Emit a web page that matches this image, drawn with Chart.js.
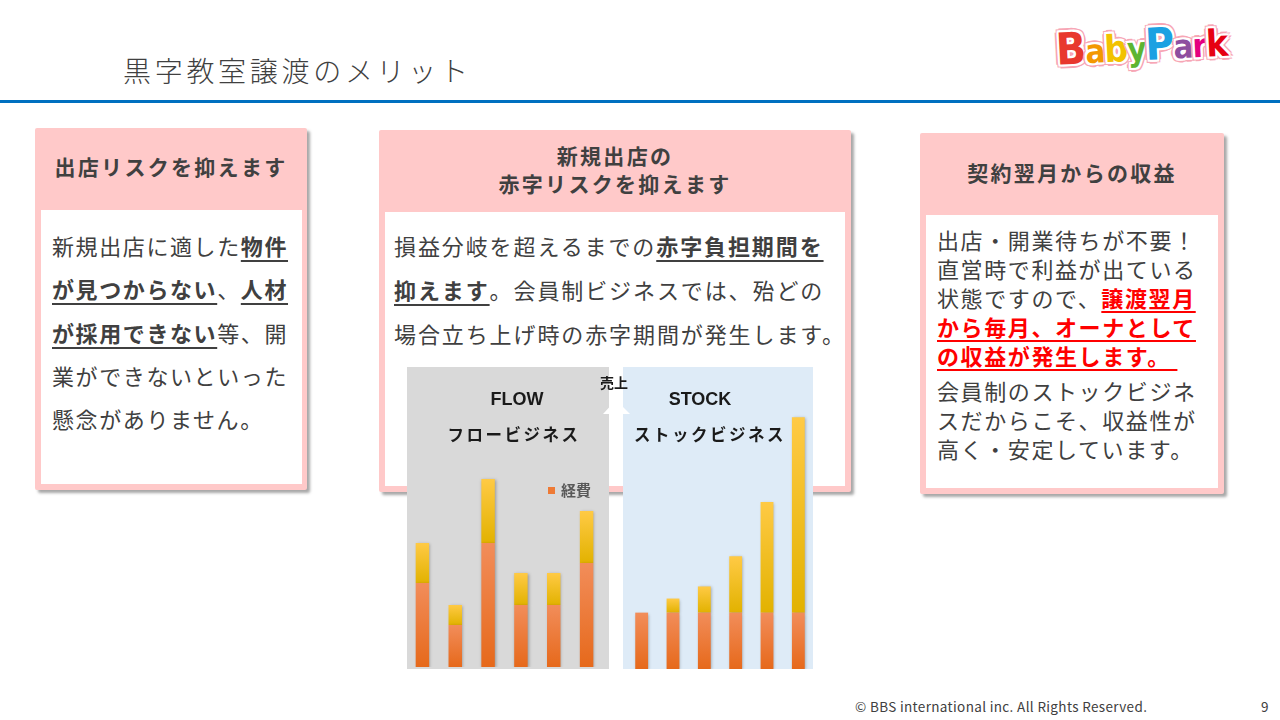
<!DOCTYPE html>
<html lang="ja">
<head>
<meta charset="utf-8">
<script src="https://cdn.jsdelivr.net/npm/chart.js@4/dist/chart.umd.min.js"></script>
<style>
  html, body { margin:0; padding:0; }
  body { width:1280px; height:720px; position:relative; overflow:hidden; background:#fff;
         font-family:"Noto Sans CJK JP","Noto Sans",sans-serif; color:#404040; }
  .abs { position:absolute; }
  .title { left:123px; top:50px; font-size:28px; font-weight:300; letter-spacing:3.7px; line-height:40px; white-space:nowrap; }
  .rule { left:0; top:100px; width:1280px; height:3px; background:#0070C0; }
  .card { background:#FFC9C9; box-shadow:3px 3px 3px rgba(0,0,0,0.35); border-radius:2px; }
  .card h3 { margin:0; position:absolute; left:0; right:0; text-align:center; font-size:21px; font-weight:700;
             letter-spacing:2.3px; line-height:28px; color:#404040; }
  .inner { background:#fff; position:absolute; }
  .body { position:absolute; font-size:22px; letter-spacing:1.6px; white-space:nowrap; }
  .u { font-weight:700; text-decoration:underline; text-decoration-thickness:2px; text-underline-offset:5px; }
  .red { color:#FF0000; font-weight:700; text-decoration:underline; text-decoration-thickness:2px; text-underline-offset:4px; }
  .panel { top:367px; height:302px; }
  .lbl { font-weight:700; text-align:center; white-space:nowrap; color:#1a1a1a; }
  .logo { left:1056px; top:20px; width:180px; height:54px; line-height:50px; font-family:"DejaVu Sans Condensed","DejaVu Sans",sans-serif;
          font-weight:700; letter-spacing:-1px; transform:rotate(-3deg); white-space:nowrap; }
  .logo span { display:inline-block; vertical-align:baseline; text-shadow:
      2px 0 #fff,-2px 0 #fff,0 2px #fff,0 -2px #fff,2px 2px #fff,-2px -2px #fff,2px -2px #fff,-2px 2px #fff,
      4px 0 #F7A6B5,-4px 0 #F7A6B5,0 4px #F7A6B5,0 -4px #F7A6B5,3px 3px #F7A6B5,-3px -3px #F7A6B5,3px -3px #F7A6B5,-3px 3px #F7A6B5; }
  .foot { top:696px; font-size:13.5px; letter-spacing:0.35px; color:#404040; font-family:"Noto Sans CJK JP","Noto Sans",sans-serif; white-space:nowrap; }
</style>
</head>
<body>
<div class="abs title">黒字教室譲渡のメリット</div>
<div class="abs rule"></div>

<div class="abs logo">
  <span style="color:#E8382E;font-size:44px;">B</span><span style="color:#F39800;font-size:33px;">a</span><span style="color:#F2C200;font-size:37px;">b</span><span style="color:#5DB531;font-size:33px;">y</span><span style="color:#1BA1E2;font-size:44px;">P</span><span style="color:#8E4FA0;font-size:33px;">a</span><span style="color:#E4007F;font-size:33px;">r</span><span style="color:#E60012;font-size:37px;">k</span>
</div>

<!-- card 1 -->
<div class="abs card" style="left:35px;top:128px;width:272px;height:362px;">
  <h3 style="top:24px;">出店リスクを抑えます</h3>
  <div class="inner" style="left:6px;top:82px;width:261px;height:274px;"></div>
  <div class="body" style="left:17px;top:96px;line-height:43.3px;">
    新規出店に適した<span class="u">物件</span><br>
    <span class="u">が見つからない</span>、<span class="u">人材</span><br>
    <span class="u">が採用できない</span>等、開<br>
    業ができないといった<br>
    懸念がありません。
  </div>
</div>

<!-- card 2 -->
<div class="abs card" style="left:379px;top:130px;width:472px;height:362px;">
  <h3 style="top:11px;">新規出店の<br>赤字リスクを抑えます</h3>
  <div class="inner" style="left:6px;top:82px;width:460px;height:274px;"></div>
  <div class="body" style="left:15px;top:93px;line-height:44px;letter-spacing:1.9px;">
    損益分岐を超えるまでの<span class="u">赤字負担期間を</span><br>
    <span class="u">抑えます</span>。会員制ビジネスでは、殆どの<br>
    場合立ち上げ時の赤字期間が発生します。
  </div>
</div>

<!-- card 3 -->
<div class="abs card" style="left:920px;top:133px;width:304px;height:361px;">
  <h3 style="top:25px;">契約翌月からの収益</h3>
  <div class="inner" style="left:6px;top:82px;width:292px;height:273px;"></div>
  <div class="body" style="left:17px;top:92px;line-height:29px;letter-spacing:1.6px;">
    出店・開業待ちが不要！<br>
    直営時で利益が出ている<br>
    状態ですので、<span class="red">譲渡翌月</span><br>
    <span class="red">から毎月、オーナとして</span><br>
    <span class="red">の収益が発生します。&nbsp;</span>
    <div style="height:6px;"></div>
    会員制のストックビジネ<br>
    スだからこそ、収益性が<br>
    高く・安定しています。
  </div>
</div>

<!-- chart panels -->
<div class="abs panel" style="left:407px;width:202px;background:#D9D9D9;"></div>
<div class="abs panel" style="left:623px;width:190px;background:#DEEBF7;"></div>

<div class="abs" style="left:406px;top:367px;width:197px;height:300px;"><canvas id="flowChart" width="197" height="300"></canvas></div>
<div class="abs" style="left:626px;top:367px;width:188px;height:302px;"><canvas id="stockChart" width="188" height="302"></canvas></div>

<svg class="abs" style="left:600px;top:396px;" width="34" height="20">
  <polygon points="16,4 3,18 30,18" fill="#fff"/>
</svg>
<div class="abs lbl" style="left:596px;top:373px;width:36px;font-size:14px;line-height:18px;">売上</div>
<div class="abs lbl" style="left:467px;top:387px;width:100px;font-size:18px;line-height:24px;font-family:'Liberation Sans',Arial,sans-serif;">FLOW</div>
<div class="abs lbl" style="left:444px;top:422px;width:140px;font-size:16.5px;line-height:24px;letter-spacing:2.5px;">フロービジネス</div>
<div class="abs lbl" style="left:650px;top:387px;width:100px;font-size:18px;line-height:24px;font-family:'Liberation Sans',Arial,sans-serif;">STOCK</div>
<div class="abs lbl" style="left:630px;top:422px;width:160px;font-size:16.5px;line-height:24px;letter-spacing:2.5px;">ストックビジネス</div>
<div class="abs" style="left:548px;top:487px;width:7px;height:7px;background:#EE7A35;"></div>
<div class="abs" style="left:561px;top:480px;font-size:15px;font-weight:700;color:#595959;line-height:20px;">経費</div>

<div class="abs foot" style="left:855px;">© BBS international inc. All Rights Reserved.</div>
<div class="abs foot" style="left:1261px;">9</div>

<script>
const periods = ['1', '2', '3', '4', '5', '6'];
const flowCost = [4.2, 2.1, 6.2, 3.1, 3.1, 5.2];
const flowSales = [6.2, 3.1, 9.4, 4.7, 4.7, 7.8];
const stockCost = [2.8, 2.8, 2.8, 2.8, 2.8, 2.8];
const stockSales = [2.8, 3.5, 4.1, 5.6, 8.3, 12.5];
const yMax = 15;

// vertical gradient for one stacked segment, from lo to hi on the y scale
function segGrad(chart, lo, hi, top, bottom){
    const area = chart.chartArea;
    if(!area || !chart.scales.y) return bottom;
    const y0 = chart.scales.y.getPixelForValue(lo);
    const y1 = chart.scales.y.getPixelForValue(hi);
    if(!isFinite(y0) || !isFinite(y1) || y0 === y1) return bottom;
    const g = chart.ctx.createLinearGradient(0, y1, 0, y0);
    g.addColorStop(0, top);
    g.addColorStop(1, bottom);
    return g;
}

const barShadow = {
    id: 'barShadow',
    beforeDatasetsDraw(chart){
        const ctx = chart.ctx;
        ctx.save();
        ctx.shadowColor = 'rgba(0,0,0,0.3)';
        ctx.shadowBlur = 3;
        ctx.shadowOffsetX = 1;
        ctx.shadowOffsetY = 1;
    },
    afterDatasetsDraw(chart){ chart.ctx.restore(); }
};

function makeChart(id, cost, sales){
    const profit = sales.map((s, i) => Math.max(0, +(s - cost[i]).toFixed(2)));
    return new Chart(document.getElementById(id), {
        type: 'bar',
        data: {
            labels: periods,
            datasets: [
                { label:'経費', data: cost,
                  backgroundColor: c => c.dataIndex === undefined ? '#EE7A35'
                      : segGrad(c.chart, 0, cost[c.dataIndex], '#F28D5A', '#E6691B') },
                { label:'利益', data: profit,
                  backgroundColor: c => c.dataIndex === undefined ? '#FFC000'
                      : segGrad(c.chart, cost[c.dataIndex], sales[c.dataIndex], '#FFCA45', '#E2B200') }
            ]
        },
        options: {
            responsive:false, animation:false,
            layout:{ padding:0 },
            datasets:{ bar:{ barPercentage:0.41, categoryPercentage:1.0, borderWidth:0 } },
            plugins:{ legend:{ display:false }, tooltip:{ enabled:false } },
            scales:{
                x:{ stacked:true, display:false },
                y:{ stacked:true, display:false, min:0, max:yMax }
            }
        },
        plugins:[barShadow]
    });
}

document.addEventListener('DOMContentLoaded', function(){
    makeChart('flowChart', flowCost, flowSales);
    makeChart('stockChart', stockCost, stockSales);
});
</script>
</body>
</html>
